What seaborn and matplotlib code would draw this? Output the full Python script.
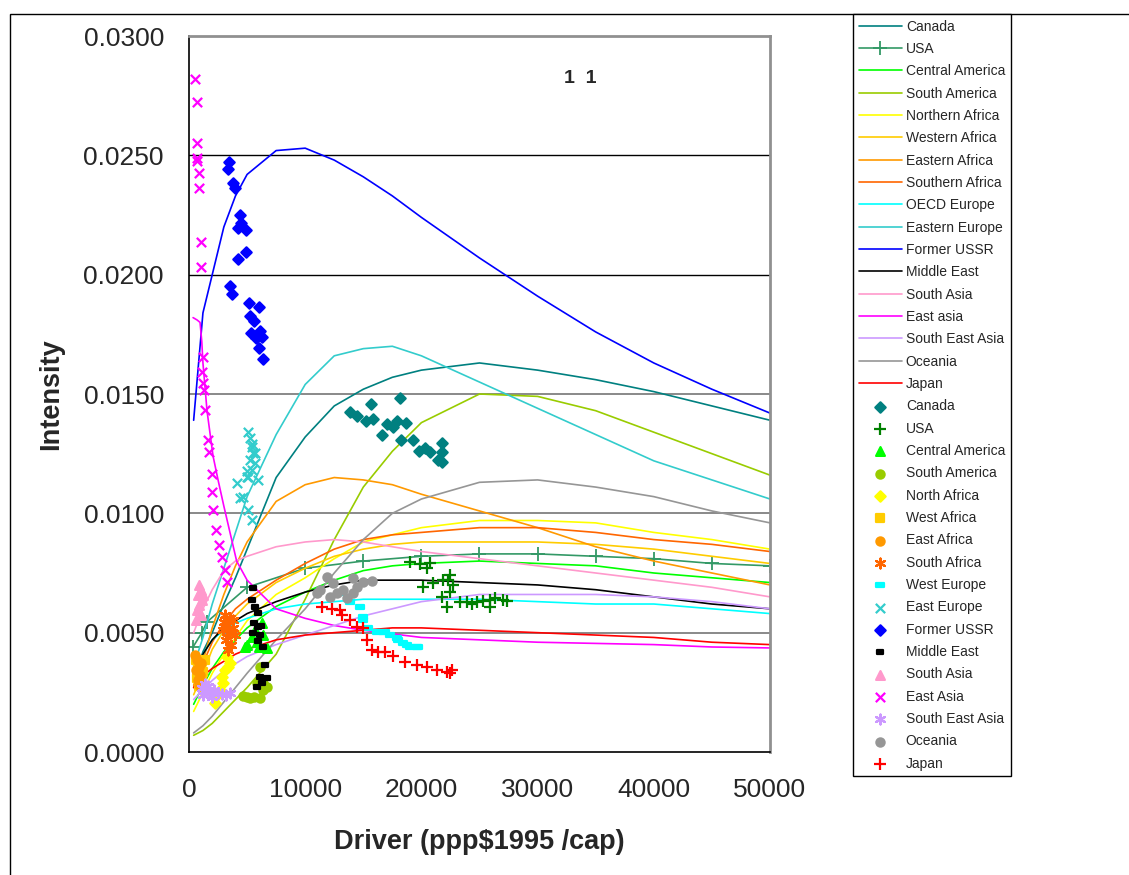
import matplotlib
matplotlib.use("Agg")
import matplotlib.pyplot as plt
import seaborn as sns
from matplotlib.path import Path
from matplotlib.patches import Rectangle
from matplotlib.ticker import FormatStrFormatter

sns.set_style("white")
plt.rcParams['font.family'] = ['Liberation Sans', 'DejaVu Sans']

# --- model curves (lines) ---
X_LINE = [400, 1200, 2000, 3000, 4000, 5000, 7500, 10000, 12500, 15000,
          17500, 20000, 25000, 30000, 35000, 40000, 45000, 50000]
CANADA_L = [0.0030, 0.0042, 0.0050, 0.0062, 0.0073, 0.0085, 0.0115, 0.0132, 0.0145, 0.0152,
            0.0157, 0.0160, 0.0163, 0.0160, 0.0156, 0.0151, 0.0145, 0.0139]
X_USA = [350, 1100, 1550, 5000, 10000, 15000, 20000, 25000, 30000, 35000, 40000, 45000, 50000]
USA_L = [0.0044, 0.0050, 0.00545, 0.0069, 0.0077, 0.0080, 0.0082, 0.0083, 0.0083, 0.0082,
         0.0081, 0.0079, 0.0078]
CAM_L = [0.0020, 0.0028, 0.0035, 0.0042, 0.0047, 0.0052, 0.0061, 0.0067, 0.0072, 0.0076,
         0.0078, 0.0079, 0.0080, 0.0079, 0.0078, 0.0075, 0.0073, 0.0071]
SAM_L = [0.0007, 0.0009, 0.0012, 0.0017, 0.0022, 0.0027, 0.0041, 0.0064, 0.0089, 0.0111,
         0.0126, 0.0138, 0.0150, 0.0149, 0.0143, 0.0134, 0.0125, 0.0116]
NAF_L = [0.0017, 0.0025, 0.0033, 0.0041, 0.0048, 0.0055, 0.0066, 0.0073, 0.0081, 0.0088,
         0.0091, 0.0094, 0.0097, 0.0097, 0.0096, 0.0092, 0.0089, 0.0085]
WAF_L = [0.0024, 0.0033, 0.0043, 0.0051, 0.0057, 0.0062, 0.0071, 0.0077, 0.0082, 0.0085,
         0.0087, 0.0088, 0.0088, 0.0088, 0.0087, 0.0085, 0.0082, 0.0079]
EAF_L = [0.0028, 0.0038, 0.0052, 0.0066, 0.0078, 0.0088, 0.0105, 0.0112, 0.0115, 0.0114,
         0.0112, 0.0108, 0.0101, 0.0094, 0.0086, 0.0080, 0.0075, 0.0070]
SAF_L = [0.0027, 0.0037, 0.0046, 0.0054, 0.0060, 0.0064, 0.0072, 0.0079, 0.0085, 0.0089,
         0.0091, 0.0092, 0.0094, 0.0094, 0.0092, 0.0089, 0.0087, 0.0084]
OECD_L = [0.0035, 0.0041, 0.0047, 0.0051, 0.0054, 0.0056, 0.0060, 0.0062, 0.0063, 0.0064,
          0.0064, 0.0064, 0.0064, 0.0063, 0.0062, 0.0062, 0.0060, 0.0058]
EEU_L = [0.0036, 0.0048, 0.0062, 0.0077, 0.0092, 0.0107, 0.0133, 0.0154, 0.0166, 0.0169,
         0.0170, 0.0166, 0.0155, 0.0144, 0.0133, 0.0122, 0.0114, 0.0106]
FSU_L = [0.0139, 0.0184, 0.0200, 0.0220, 0.0233, 0.0242, 0.0252, 0.0253, 0.0248, 0.0241,
         0.0233, 0.0224, 0.0207, 0.0191, 0.0176, 0.0163, 0.0152, 0.0142]
MEA_L = [0.0035, 0.0041, 0.0047, 0.0052, 0.0055, 0.0058, 0.0063, 0.0067, 0.0070, 0.0072,
         0.0072, 0.0072, 0.0071, 0.0070, 0.0068, 0.0065, 0.0062, 0.0060]
SAS_L = [0.0050, 0.0060, 0.0068, 0.0076, 0.0080, 0.0082, 0.0086, 0.0088, 0.0089, 0.0088,
         0.0086, 0.0084, 0.0081, 0.0078, 0.0075, 0.0072, 0.0069, 0.0065]
X_EASIA = [350, 700, 950, 1100, 1200, 1550, 2070, 2500, 3000, 4100, 5000, 7500, 10000,
           12500, 15000, 20000, 25000, 30000, 35000, 40000, 45000, 50000]
EAS_L = [0.0182, 0.0181, 0.0180, 0.0172, 0.0163, 0.0143, 0.0124, 0.0114, 0.0103, 0.0080,
         0.0072, 0.0060, 0.0056, 0.0053, 0.0051, 0.0048, 0.0047, 0.0046, 0.00455, 0.0045,
         0.0044, 0.00436]
SEA_L = [0.0022, 0.0026, 0.0030, 0.0034, 0.0037, 0.0040, 0.0045, 0.0049, 0.0053, 0.0057,
         0.0060, 0.0063, 0.0066, 0.0066, 0.0066, 0.0065, 0.0063, 0.0060]
OCE_L = [0.0008, 0.0011, 0.0015, 0.0021, 0.0027, 0.0033, 0.0047, 0.0060, 0.0075, 0.0089,
         0.0100, 0.0106, 0.0113, 0.0114, 0.0111, 0.0107, 0.0101, 0.0096]
JPN_L = [0.0027, 0.0032, 0.0035, 0.0038, 0.0041, 0.0043, 0.0047, 0.0049, 0.0050, 0.0051,
         0.0052, 0.0052, 0.0051, 0.0050, 0.0049, 0.0048, 0.0046, 0.0045]

# --- observed points ---
CAN_X = [13860, 14460, 15660, 15230, 15830, 17040, 16610, 17560, 17900, 18160,
         18670, 18240, 19280, 19790, 20310, 20740, 21770, 21770, 21430, 21770]
CAN_Y = [0.01425, 0.01408, 0.01458, 0.01387, 0.01395, 0.01374, 0.01328, 0.01362, 0.01387, 0.01483,
         0.01378, 0.01307, 0.01307, 0.01261, 0.01274, 0.01257, 0.01295, 0.01257, 0.01223, 0.01215]
USA_X = [19020, 19880, 20480, 20740, 20140, 21000, 21860, 22460, 22720, 22290, 22460, 21770,
         22200, 23320, 23920, 24350, 24780, 25300, 25900, 25900, 26330, 27020, 27370]
USA_Y = [0.00796, 0.00788, 0.00771, 0.00792, 0.00691, 0.00708, 0.00721, 0.00742, 0.00700, 0.00721,
         0.00670, 0.00649, 0.00608, 0.00629, 0.00629, 0.00620, 0.00629, 0.00633, 0.00637, 0.00608,
         0.00645, 0.00637, 0.00633]
CAM_X = [4990, 5420, 5680, 6280, 6370, 6710, 6020, 4820, 5850]
CAM_Y = [0.00448, 0.00482, 0.00511, 0.00540, 0.00490, 0.00436, 0.00440, 0.00440, 0.00461]
SAM_X = [4990, 5250, 6110, 6370, 6110, 5850, 6370, 5590, 6710, 4650]
SAM_Y = [0.00230, 0.00226, 0.00226, 0.00260, 0.00356, 0.00289, 0.00289, 0.00230, 0.00272, 0.00235]
NAF_X = [3270, 3530, 3100, 2840, 2930, 2410, 2240, 2670, 3360]
NAF_Y = [0.00398, 0.00373, 0.00344, 0.00314, 0.00289, 0.00239, 0.00205, 0.00260, 0.00356]
WAF_X = [600, 770, 950, 1030, 1120, 860, 1200, 1380, 1290, 690]
WAF_Y = [0.00385, 0.00365, 0.00344, 0.00318, 0.00297, 0.00277, 0.00335, 0.00385, 0.00260, 0.00310]
EAF_X = [520, 690, 860, 950, 770, 600, 1030, 860]
EAF_Y = [0.00406, 0.00385, 0.00356, 0.00323, 0.00300, 0.00344, 0.00375, 0.00281]
SAF_X = [3100, 3530, 3360, 3790, 2930, 3960, 3180, 3610, 3360, 3790, 3010, 3440]
SAF_Y = [0.00574, 0.00561, 0.00532, 0.00520, 0.00511, 0.00490, 0.00469, 0.00448, 0.00427, 0.00553,
         0.00545, 0.00499]
WEU_X = [13000, 13860, 14720, 14970, 14970, 15400, 16180, 16870, 17300, 17990, 18760, 19620,
         16700, 17900, 18420, 19020, 19710]
WEU_Y = [0.00666, 0.00629, 0.00608, 0.00566, 0.00553, 0.00520, 0.00503, 0.00503, 0.00490, 0.00469,
         0.00448, 0.00440, 0.00503, 0.00478, 0.00457, 0.00440, 0.00440]
EEU_X = [5080, 5250, 5420, 5510, 5250, 5680, 5420, 4990, 5680, 4990, 4130, 5080, 5940, 4650,
         4390, 5080, 5420, 5420]
EEU_Y = [0.01341, 0.01316, 0.01278, 0.01253, 0.01223, 0.01211, 0.01182, 0.01177, 0.01253, 0.01152,
         0.01127, 0.01152, 0.01140, 0.01068, 0.01064, 0.01014, 0.00972, 0.01290]
FSU_X = [3440, 3360, 3790, 3960, 4390, 4470, 4220, 4900, 4900, 4220, 3530, 3700,
         5160, 6020, 5250, 5590, 5340, 6110, 5770, 6280, 6020, 6370]
FSU_Y = [0.02472, 0.02443, 0.02384, 0.02363, 0.02250, 0.02217, 0.02196, 0.02187, 0.02095, 0.02066,
         0.01953, 0.01919, 0.01882, 0.01865, 0.01827, 0.01806, 0.01756, 0.01764, 0.01735, 0.01739,
         0.01693, 0.01647]
MEA_X = [5510, 5420, 5680, 5940, 5590, 5940, 6200, 5510, 6110, 5940, 6370, 6540, 6110, 6710,
         6280, 5850]
MEA_Y = [0.00687, 0.00637, 0.00608, 0.00582, 0.00540, 0.00524, 0.00528, 0.00499, 0.00490, 0.00465,
         0.00440, 0.00365, 0.00314, 0.00310, 0.00289, 0.00272]
SAS_X = [860, 1030, 770, 1120, 860, 690, 1030, 600, 1200]
SAS_Y = [0.00700, 0.00679, 0.00658, 0.00637, 0.00616, 0.00595, 0.00574, 0.00553, 0.00658]
EAS_X = [520, 690, 690, 690, 690, 860, 860, 1030, 1030, 1200, 1120, 1200, 1290, 1380, 1640,
         1720, 1980, 1980, 2070, 2320, 2580, 2840, 3100, 3270]
EAS_Y = [0.02820, 0.02724, 0.02552, 0.02489, 0.02476, 0.02426, 0.02363, 0.02137, 0.02032, 0.01655,
         0.01592, 0.01546, 0.01517, 0.01433, 0.01307, 0.01257, 0.01165, 0.01089, 0.01014, 0.00930,
         0.00867, 0.00817, 0.00763, 0.00712]
SEA_X = [1120, 1460, 1810, 2150, 2500, 2840, 3180, 3530, 1200, 1640, 1980, 1380]
SEA_Y = [0.00268, 0.00260, 0.00251, 0.00260, 0.00247, 0.00243, 0.00239, 0.00247, 0.00239, 0.00277,
         0.00230, 0.00285]
OCE_X = [11880, 12390, 11270, 11020, 12740, 13600, 14110, 14460, 14970, 15750, 13250, 12130, 14110]
OCE_Y = [0.00733, 0.00708, 0.00679, 0.00666, 0.00666, 0.00645, 0.00729, 0.00691, 0.00712, 0.00717,
         0.00679, 0.00650, 0.00666]
JPN_X = [11450, 12310, 13000, 13170, 13860, 14460, 14970, 15320, 15750, 16270, 16870, 17560,
         18590, 19620, 20480, 21340, 22200, 22630, 22460]
JPN_Y = [0.00608, 0.00599, 0.00595, 0.00574, 0.00553, 0.00524, 0.00520, 0.00469, 0.00427, 0.00419,
         0.00419, 0.00402, 0.00377, 0.00365, 0.00356, 0.00344, 0.00335, 0.00344, 0.00331]

RECT = Path([(-1, -0.55), (1, -0.55), (1, 0.55), (-1, 0.55), (-1, -0.55)],
            [Path.MOVETO, Path.LINETO, Path.LINETO, Path.LINETO, Path.CLOSEPOLY])
AST = (6, 2, 0)

lines = [
    ("Canada", X_LINE, CANADA_L, "#008080"),
    ("USA", X_USA, USA_L, "#339966"),
    ("Central America", X_LINE, CAM_L, "#00FF00"),
    ("South America", X_LINE, SAM_L, "#99CC00"),
    ("Northern Africa", X_LINE, NAF_L, "#FFFF00"),
    ("Western Africa", X_LINE, WAF_L, "#FFCC00"),
    ("Eastern Africa", X_LINE, EAF_L, "#FF9900"),
    ("Southern Africa", X_LINE, SAF_L, "#FF6600"),
    ("OECD Europe", X_LINE, OECD_L, "#00FFFF"),
    ("Eastern Europe", X_LINE, EEU_L, "#33CCCC"),
    ("Former USSR", X_LINE, FSU_L, "#0000FF"),
    ("Middle East", X_LINE, MEA_L, "#000000"),
    ("South Asia", X_LINE, SAS_L, "#FF99CC"),
    ("East asia", X_EASIA, EAS_L, "#FF00FF"),
    ("South East Asia", X_LINE, SEA_L, "#CC99FF"),
    ("Oceania", X_LINE, OCE_L, "#969696"),
    ("Japan", X_LINE, JPN_L, "#FF0000"),
]

points = [
    ("Canada", CAN_X, CAN_Y, "#008080", "D", 28),
    ("USA", USA_X, USA_Y, "#008000", "+", 80),
    ("Central America", CAM_X, CAM_Y, "#00FF00", "^", 40),
    ("South America", SAM_X, SAM_Y, "#99CC00", "o", 35),
    ("North Africa", NAF_X, NAF_Y, "#FFFF00", "D", 28),
    ("West Africa", WAF_X, WAF_Y, "#FFCC00", "s", 30),
    ("East Africa", EAF_X, EAF_Y, "#FF9900", "o", 35),
    ("South Africa", SAF_X, SAF_Y, "#FF6600", AST, 50),
    ("West Europe", WEU_X, WEU_Y, "#00FFFF", RECT, 36),
    ("East Europe", EEU_X, EEU_Y, "#33CCCC", "x", 45),
    ("Former USSR", FSU_X, FSU_Y, "#0000FF", "D", 28),
    ("Middle East", MEA_X, MEA_Y, "#000000", RECT, 22),
    ("South Asia", SAS_X, SAS_Y, "#FF99CC", "^", 40),
    ("East Asia", EAS_X, EAS_Y, "#FF00FF", "x", 45),
    ("South East Asia", SEA_X, SEA_Y, "#CC99FF", AST, 50),
    ("Oceania", OCE_X, OCE_Y, "#969696", "o", 35),
    ("Japan", JPN_X, JPN_Y, "#FF0000", "+", 80),
]

fig = plt.figure(figsize=(11.29, 8.75), dpi=100)
ax = fig.add_axes([189 / 1129, 1 - 752 / 875, (770 - 189) / 1129, (752 - 36) / 875])

for name, xs, ys, c in lines:
    if name == "USA":
        sns.lineplot(x=xs, y=ys, color=c, lw=1.2, label=name, ax=ax, sort=False,
                     estimator=None, marker="+", markersize=10, markeredgewidth=1.3,
                     markeredgecolor=c, linestyle="-", zorder=2)
    else:
        sns.lineplot(x=xs, y=ys, color=c, lw=1.2, label=name, ax=ax, sort=False,
                     estimator=None, zorder=2)

for name, xs, ys, c, m, s in points:
    sns.scatterplot(x=xs, y=ys, color=c, edgecolor=c, marker=m, s=s, linewidth=1.6,
                    label=name, ax=ax, zorder=3)

ax.set_xlim(0, 50000)
ax.set_ylim(0, 0.03)
ax.set_xticks([0, 10000, 20000, 30000, 40000, 50000])
ax.set_yticks([0, 0.005, 0.01, 0.015, 0.02, 0.025, 0.03])
ax.yaxis.set_major_formatter(FormatStrFormatter('%.4f'))
for yv, gc, gw in [(0.005, "#808080", 1.3), (0.01, "#808080", 1.3), (0.015, "#808080", 1.3),
                   (0.02, "#000000", 1.0), (0.025, "#000000", 1.0)]:
    ax.axhline(yv, color=gc, lw=gw, zorder=1)
ax.tick_params(direction="out", length=6, width=1, labelsize=19, color="black")
ax.tick_params(axis="x", pad=13)
ax.tick_params(axis="y", pad=12)
for side in ["left", "bottom"]:
    ax.spines[side].set_color("black")
    ax.spines[side].set_linewidth(1.2)
for side in ["top", "right"]:
    ax.spines[side].set_color("#909090")
    ax.spines[side].set_linewidth(2)

ax.set_xlabel("Driver (ppp$1995 /cap)", fontsize=19.5, fontweight="bold", labelpad=19)
ax.set_ylabel("Intensity", fontsize=19.5, fontweight="bold", labelpad=14)
ax.text(0.673, 0.941, "1  1", transform=ax.transAxes, fontsize=14, fontweight="bold",
        ha="center", va="center")

handles, labels = ax.get_legend_handles_labels()
ax.get_legend().remove()
leg = fig.legend(handles, labels, loc="upper left", bbox_to_anchor=(853 / 1129, 1 - 14 / 875),
                 fontsize=10, handlelength=3.1, labelspacing=0.6, borderpad=0.4,
                 borderaxespad=0, frameon=True, fancybox=False, edgecolor="black",
                 framealpha=1, handletextpad=0.3)
leg.get_frame().set_linewidth(1)

fig.patches.append(Rectangle((10 / 1129, -0.1), 2, 1 - 14 / 875 + 0.1,
                             transform=fig.transFigure, fill=False, edgecolor="black",
                             lw=1, zorder=0))

fig.savefig("out.png", dpi=100)
